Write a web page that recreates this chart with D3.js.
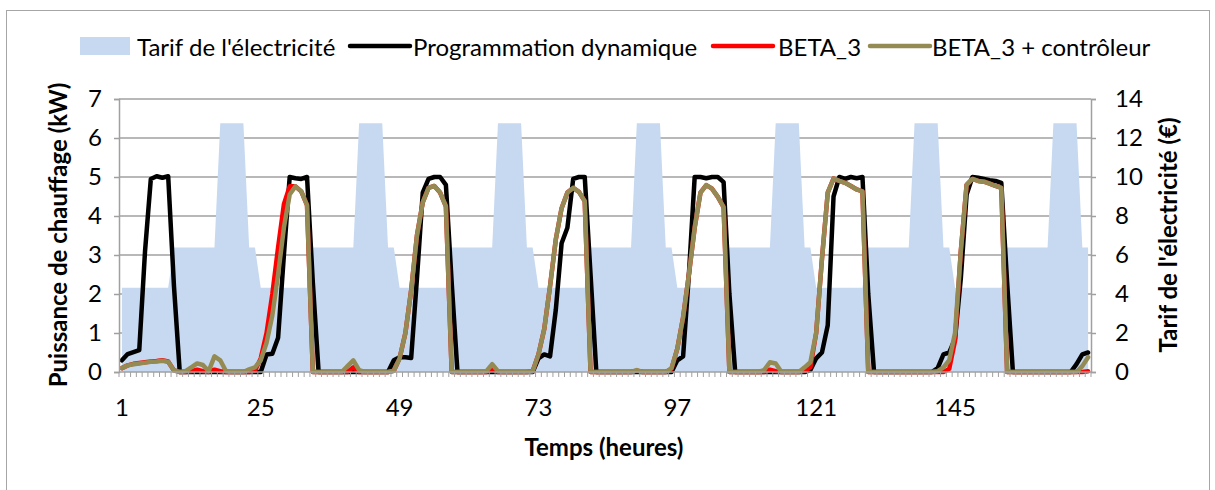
<!DOCTYPE html>
<html>
<head>
<meta charset="utf-8">
<script src="https://cdn.jsdelivr.net/npm/d3@7"></script>
<style>
  html, body { margin: 0; padding: 0; background: #ffffff; }
  svg { display: block; }
  text { font-family: Lato, "Noto Sans", sans-serif; fill: #000; }
</style>
</head>
<body>
<svg id="chart" width="1215" height="490"></svg>
<script>
// ---------------- DATA ----------------
const hours = d3.range(1, 169);               // categories 1..168
const xTickLabels = [1, 25, 49, 73, 97, 121, 145];
const leftTicks = [0, 1, 2, 3, 4, 5, 6, 7];
const rightTicks = [0, 2, 4, 6, 8, 10, 12, 14];

// Tarif de l'électricité (€) – right axis
const tarif = [
  4.32,4.32,4.32,4.32,4.32,4.32,4.32,4.32,4.32,6.38,6.38,6.38,6.38,6.38,6.38,6.38,6.38,12.76,12.76,12.76,12.76,12.76,6.38,6.38,
  4.32,4.32,4.32,4.32,4.32,4.32,4.32,4.32,4.32,6.38,6.38,6.38,6.38,6.38,6.38,6.38,6.38,12.76,12.76,12.76,12.76,12.76,6.38,6.38,
  4.32,4.32,4.32,4.32,4.32,4.32,4.32,4.32,4.32,6.38,6.38,6.38,6.38,6.38,6.38,6.38,6.38,12.76,12.76,12.76,12.76,12.76,6.38,6.38,
  4.32,4.32,4.32,4.32,4.32,4.32,4.32,4.32,4.32,6.38,6.38,6.38,6.38,6.38,6.38,6.38,6.38,12.76,12.76,12.76,12.76,12.76,6.38,6.38,
  4.32,4.32,4.32,4.32,4.32,4.32,4.32,4.32,4.32,6.38,6.38,6.38,6.38,6.38,6.38,6.38,6.38,12.76,12.76,12.76,12.76,12.76,6.38,6.38,
  4.32,4.32,4.32,4.32,4.32,4.32,4.32,4.32,4.32,6.38,6.38,6.38,6.38,6.38,6.38,6.38,6.38,12.76,12.76,12.76,12.76,12.76,6.38,6.38,
  4.32,4.32,4.32,4.32,4.32,4.32,4.32,4.32,4.32,6.38,6.38,6.38,6.38,6.38,6.38,6.38,6.38,12.76,12.76,12.76,12.76,12.76,6.38,6.38
];

// Programmation dynamique (kW)
const progDyn = [
  0.30,0.46,0.51,0.56,3.10,4.95,5.02,4.98,5.02,2.20,0,0,0,0,0,0,0,0,0,0,0,0,0,0,
  0,0.45,0.47,0.88,3.00,5.00,4.97,4.95,5.00,2.30,0,0,0,0,0,0,0,0,0,0,0,0,0,0.30,
  0.38,0.38,0.36,2.40,4.60,4.95,5.00,5.00,4.80,2.30,0,0,0,0,0,0,0,0,0,0,0,0,0,0,
  0.35,0.45,0.40,1.60,3.30,3.70,4.95,5.00,5.00,2.50,0,0,0,0,0,0,0,0,0,0,0,0,0,0,
  0.30,0.40,2.50,5.00,5.00,4.97,5.00,5.00,4.87,2.00,0,0,0,0,0,0,0,0,0,0,0,0,0,0.05,
  0.35,0.50,1.20,4.50,5.00,4.95,5.00,4.97,5.00,2.00,0,0,0,0,0,0,0,0,0,0,0,0.10,0.45,0.50,
  0.85,2.40,4.55,5.00,4.98,4.95,4.92,4.90,4.85,2.30,0,0,0,0,0,0,0,0,0,0,0,0.20,0.45,0.50
];

// BETA_3 (kW)
const beta3 = [
  0.10,0.17,0.21,0.23,0.25,0.27,0.28,0.30,0.27,0.04,0,0,0.02,0.06,0.02,0,0.06,0.02,0,0,0,0,0,0.03,
  0.35,1.00,2.00,3.20,4.30,4.76,4.76,4.63,4.28,0,0,0,0,0,0,0,0.12,0,0,0,0,0,0,0.03,
  0.35,1.00,2.10,3.50,4.35,4.72,4.77,4.60,4.25,0,0,0,0,0,0,0,0.08,0,0,0,0,0,0,0.02,
  0.45,1.10,2.20,3.40,4.20,4.60,4.72,4.62,4.38,0,0,0,0,0,0,0,0,0.03,0,0,0,0,0,0.08,
  0.60,1.40,2.50,3.70,4.60,4.79,4.70,4.49,4.23,0,0,0,0,0,0,0,0.06,0.02,0,0,0,0,0.03,0.12,
  1.00,2.90,4.60,4.96,4.90,4.85,4.77,4.68,4.63,0,0,0,0,0,0,0,0,0,0,0,0,0,0,0.08,
  0.80,3.10,4.80,4.95,4.90,4.88,4.83,4.77,4.72,0,0,0,0,0,0,0,0,0,0,0,0,0,0,0.02
];

// BETA_3 + contrôleur (kW)
const beta3Ctrl = [
  0.10,0.17,0.20,0.22,0.24,0.26,0.27,0.29,0.26,0.04,0,0.02,0.12,0.22,0.18,0.02,0.40,0.30,0.02,0,0,0,0.07,0.12,
  0.30,0.75,1.45,2.50,3.70,4.55,4.76,4.63,4.28,0,0,0,0,0,0,0.15,0.30,0.05,0,0,0,0,0,0.03,
  0.35,1.00,2.10,3.50,4.35,4.72,4.77,4.60,4.25,0,0,0,0,0,0,0.02,0.20,0.02,0,0,0,0,0,0.02,
  0.45,1.10,2.20,3.40,4.20,4.60,4.72,4.62,4.38,0,0,0,0,0,0,0,0,0.05,0,0,0,0,0,0.10,
  0.60,1.40,2.50,3.70,4.60,4.79,4.70,4.49,4.23,0,0,0,0,0,0,0.05,0.25,0.22,0,0,0,0,0.12,0.25,
  1.00,2.90,4.60,4.96,4.90,4.85,4.77,4.68,4.63,0,0,0,0,0,0,0,0,0,0,0,0,0.02,0.12,0.30,
  1.00,3.10,4.80,4.95,4.90,4.88,4.83,4.77,4.72,0,0,0,0,0,0,0,0,0,0,0,0,0,0.15,0.38
];

const legendLabels = ["Tarif de l'électricité", "Programmation dynamique", "BETA_3", "BETA_3 + contrôleur"];

// ---------------- CHART ----------------
const svg = d3.select("#chart");
const plot = { left: 119, right: 1091, top: 99, bottom: 372 };
const FS = 24;

const x = d3.scaleBand().domain(hours).range([plot.left, plot.right]).paddingInner(0).paddingOuter(0);
const xc = h => x(h) + x.bandwidth() / 2;
const yL = d3.scaleLinear().domain([0, 7]).range([plot.bottom, plot.top]);
const yR = d3.scaleLinear().domain([0, 14]).range([plot.bottom, plot.top]);

// chart border
svg.append("rect").attr("x", 6.5).attr("y", 10.5).attr("width", 1203).attr("height", 490)
  .attr("fill", "none").attr("stroke", "#a6a6a6").attr("stroke-width", 1);

// gridlines
svg.append("g").selectAll("line").data(leftTicks.filter(d => d > 0)).join("line")
  .attr("x1", plot.left).attr("x2", plot.right)
  .attr("y1", d => yL(d)).attr("y2", d => yL(d))
  .attr("stroke", "#a0a0a0").attr("stroke-width", 1.5);

// tariff area
const area = d3.area().x((d, i) => xc(hours[i])).y0(yR(0)).y1(d => yR(d)).curve(d3.curveLinear);
svg.append("path").datum(tarif).attr("d", area).attr("fill", "#c6d9f1");

// lines
const lineL = d3.line().x((d, i) => xc(hours[i])).y(d => yL(d)).curve(d3.curveLinear);
const series = [
  { data: progDyn, color: "#000000" },
  { data: beta3, color: "#ff0000" },
  { data: beta3Ctrl, color: "#948a54" }
];
svg.append("g").selectAll("path").data(series).join("path")
  .attr("d", d => lineL(d.data))
  .attr("fill", "none").attr("stroke", d => d.color)
  .attr("stroke-width", 4.5).attr("stroke-linejoin", "round").attr("stroke-linecap", "round");

// axes
const axisColor = "#a0a0a0";
const bottomAxis = svg.append("g").attr("transform", `translate(0,${plot.bottom})`)
  .call(d3.axisBottom(x).tickValues(xTickLabels).tickSize(0).tickPadding(27));
bottomAxis.select(".domain").remove();
bottomAxis.selectAll("text").attr("font-size", FS).style("font-family", "Lato");
// category boundary tick marks
svg.append("g").selectAll("line").data(d3.range(0, 169)).join("line")
  .attr("x1", i => plot.left + i * x.step()).attr("x2", i => plot.left + i * x.step())
  .attr("y1", plot.bottom).attr("y2", plot.bottom + 5)
  .attr("stroke", axisColor).attr("stroke-width", 1);
svg.append("line").attr("x1", plot.left).attr("x2", plot.right)
  .attr("y1", plot.bottom).attr("y2", plot.bottom).attr("stroke", axisColor).attr("stroke-width", 1.5);

const leftAxis = svg.append("g").attr("transform", `translate(${plot.left},0)`)
  .call(d3.axisLeft(yL).tickValues(leftTicks).tickSize(5).tickPadding(12).tickFormat(d3.format("d")));
leftAxis.select(".domain").attr("stroke", axisColor).attr("stroke-width", 1.5);
leftAxis.selectAll(".tick line").attr("stroke", axisColor).attr("stroke-width", 1.5);
leftAxis.selectAll("text").attr("font-size", FS).style("font-family", "Lato");

const rightAxis = svg.append("g").attr("transform", `translate(${plot.right},0)`)
  .call(d3.axisRight(yR).tickValues(rightTicks).tickSize(5).tickPadding(19).tickFormat(d3.format("d")));
rightAxis.select(".domain").attr("stroke", axisColor).attr("stroke-width", 1.5);
rightAxis.selectAll(".tick line").attr("stroke", axisColor).attr("stroke-width", 1.5);
rightAxis.selectAll("text").attr("font-size", FS).style("font-family", "Lato");

// axis titles
svg.append("text").attr("transform", "translate(57,235) rotate(-90)")
  .attr("text-anchor", "middle").attr("dominant-baseline", "central")
  .attr("font-size", FS).attr("font-weight", "bold").text("Puissance de chauffage (kW)");
svg.append("text").attr("transform", "translate(1167,235) rotate(-90)")
  .attr("text-anchor", "middle").attr("dominant-baseline", "central")
  .attr("font-size", FS).attr("font-weight", "bold").text("Tarif de l'électricité (€)");
svg.append("text").attr("x", 604).attr("y", 446)
  .attr("text-anchor", "middle").attr("dominant-baseline", "central")
  .attr("font-size", FS).attr("font-weight", "bold").text("Temps (heures)");

// legend
const lg = svg.append("g");
const ly = 46;
lg.append("rect").attr("x", 80).attr("y", 37).attr("width", 50).attr("height", 18).attr("fill", "#c6d9f1");
const legendItems = [
  { kind: "rect", tx: 137 },
  { kind: "line", x1: 350, x2: 410, color: "#000000", tx: 413 },
  { kind: "line", x1: 713, x2: 773, color: "#ff0000", tx: 778 },
  { kind: "line", x1: 870, x2: 930, color: "#948a54", tx: 932 }
];
legendItems.forEach((it, i) => {
  if (it.kind === "line") {
    lg.append("line").attr("x1", it.x1).attr("x2", it.x2).attr("y1", ly).attr("y2", ly)
      .attr("stroke", it.color).attr("stroke-width", 4.5).attr("stroke-linecap", "round");
  }
  lg.append("text").attr("x", it.tx).attr("y", ly).attr("dominant-baseline", "central")
    .attr("font-size", FS).text(legendLabels[i]);
});
</script>
</body>
</html>
